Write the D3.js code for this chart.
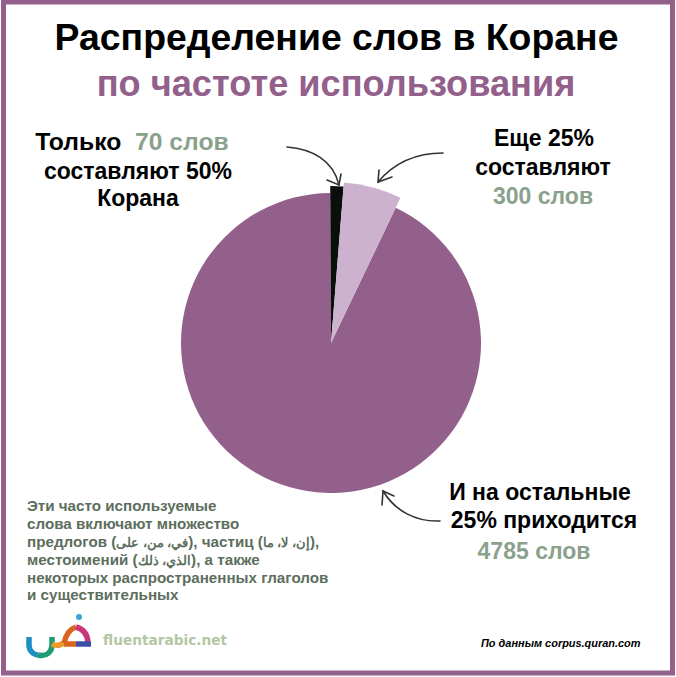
<!DOCTYPE html>
<html>
<head>
<meta charset="utf-8">
<script src="https://cdn.jsdelivr.net/npm/d3@7"></script>
<style>
html, body { margin: 0; padding: 0; background: #fff; }
svg { display: block; }
text { font-family: "Liberation Sans", Arial, sans-serif; font-weight: bold; white-space: pre; }
</style>
</head>
<body>
<svg id="chart" width="676" height="677"></svg>
<script>
var categories = ["70 слов", "300 слов", "4785 слов"];
var wordCounts = [70, 300, 4785];
var sliceColors = ["#0b0f0c", "#cdb2d0", "#93608c"];
var sliceRadii = [157, 161, 150];

var purple = "#93608c", sage = "#8aa18c", noteGreen = "#5c6e5c";

var svg = d3.select("#chart");

//frame
svg.append("rect").attr("x", 3.5).attr("y", 2).attr("width", 669).attr("height", 671)
	.attr("fill", "#fff").attr("stroke", purple).attr("stroke-width", 5);

//pie
var pie = d3.pie().sort(null).startAngle(-0.005).endAngle(2 * Math.PI - 0.005);
var arcs = pie(wordCounts);

var slices = svg.append("g").attr("transform", "translate(331,343)");
// big slice goes first so the small ones sit on top of it
[2, 0, 1].forEach(function(i) {
	slices.append("path")
		.attr("d", d3.arc().innerRadius(0).outerRadius(sliceRadii[i])(arcs[i]))
		.attr("fill", sliceColors[i]);
});

function addLines(lines) {
	lines.forEach(function(d) {
		var t = svg.append("text")
			.attr("x", d.x).attr("y", d.y)
			.attr("text-anchor", d.anchor || "middle")
			.attr("font-size", d.size)
			.attr("fill", d.color || "#000");
		if (d.italic) t.attr("font-style", "italic");
		if (d.spans) {
			d.spans.forEach(function(s) {
				var span = t.append("tspan").attr("fill", s.color || d.color || "#000").text(s.text);
				if (s.size) span.attr("font-size", s.size);
			});
		} else {
			t.text(d.text);
		}
	});
}

//headings
addLines([
	{x: 336.5, y: 50, size: 37.4, text: "Распределение слов в Коране"},
	{x: 336, y: 96, size: 36.2, color: purple, text: "по частоте использования"}
]);

//slice labels
addLines([
	{x: 132, y: 150, size: 24.7, spans: [{text: "Только  "}, {text: categories[0], color: sage}]},
	{x: 138, y: 179, size: 23, text: "составляют 50%"},
	{x: 138, y: 206, size: 23, text: "Корана"},
	{x: 544, y: 146, size: 23, text: "Еще 25%"},
	{x: 543, y: 175, size: 23, text: "составляют"},
	{x: 543, y: 204, size: 23, color: sage, text: categories[1]},
	{x: 540, y: 500, size: 23, text: "И на остальные"},
	{x: 544, y: 528, size: 23, text: "25% приходится"},
	{x: 534, y: 559, size: 23, color: sage, text: categories[2]}
]);

//side note, the arabic runs are a bit smaller than the russian
var ar = 12.6;
addLines([
	{x: 27, y: 511, size: 15.2, anchor: "start", color: noteGreen, text: "Эти часто используемые"},
	{x: 27, y: 529, size: 15.2, anchor: "start", color: noteGreen, text: "слова включают множество"},
	{x: 27, y: 547, size: 15.2, anchor: "start", color: noteGreen, spans: [
		{text: "предлогов ("}, {text: "في، من، على", size: ar}, {text: "), частиц ("}, {text: "إن، لا، ما", size: ar}, {text: "),"}
	]},
	{x: 27, y: 565, size: 15.2, anchor: "start", color: noteGreen, spans: [
		{text: "местоимений ("}, {text: "الذي، ذلك", size: ar}, {text: "), а также"}
	]},
	{x: 27, y: 583, size: 15.2, anchor: "start", color: noteGreen, text: "некоторых распространенных глаголов"},
	{x: 27, y: 600, size: 15.2, anchor: "start", color: noteGreen, text: "и существительных"},
	{x: 481, y: 647, size: 10.95, anchor: "start", italic: true, text: "По данным corpus.quran.com"}
]);

//arrows
var arrows = [
	"M287,147 C312,149 333,160 339,185",
	"M327,180 L339,185 L341,174",
	"M443,153 C417,153 394,163 378,182",
	"M392,177 L378,182 L379,170",
	"M440,521 C416,522 395,511 383,491",
	"M382,505 L383,491 L394,496"
];
svg.append("g").selectAll("path").data(arrows).join("path")
	.attr("d", function(d) { return d; })
	.attr("fill", "none")
	.attr("stroke", "#333")
	.attr("stroke-width", 1.6)
	.attr("stroke-linecap", "round");

//logo
var logo = svg.append("g").attr("fill", "none").attr("stroke-width", 5.5);
logo.append("path").attr("d", "M29,637 V645 A10,10 0 0 0 38,655").attr("stroke", "#1d8fc0");
logo.append("path").attr("d", "M38,655 C47,657 52,652 52,644 V637").attr("stroke", "#1f9a72");
logo.append("path").attr("d", "M52,644 Q57,647 64,643").attr("stroke", "#ee9a2b");
logo.append("path").attr("d", "M64,643 Q67,630 76,627").attr("stroke", "#d9651f");
logo.append("path").attr("d", "M76,627 Q87,630 88,642").attr("stroke", "#c8377a");
logo.append("path").attr("d", "M64,644 H76").attr("stroke", "#d9651f");
logo.append("path").attr("d", "M76,644 H91").attr("stroke", "#3a4fa8");
svg.append("circle").attr("cx", 79).attr("cy", 617).attr("r", 3).attr("fill", "#35a4d6");

svg.append("text").attr("x", 103).attr("y", 645)
	.attr("font-size", 13.7)
	.attr("fill", "#b3c6a4")
	.style("font-family", "'DejaVu Sans'")
	.text("fluentarabic.net");
</script>
</body>
</html>
